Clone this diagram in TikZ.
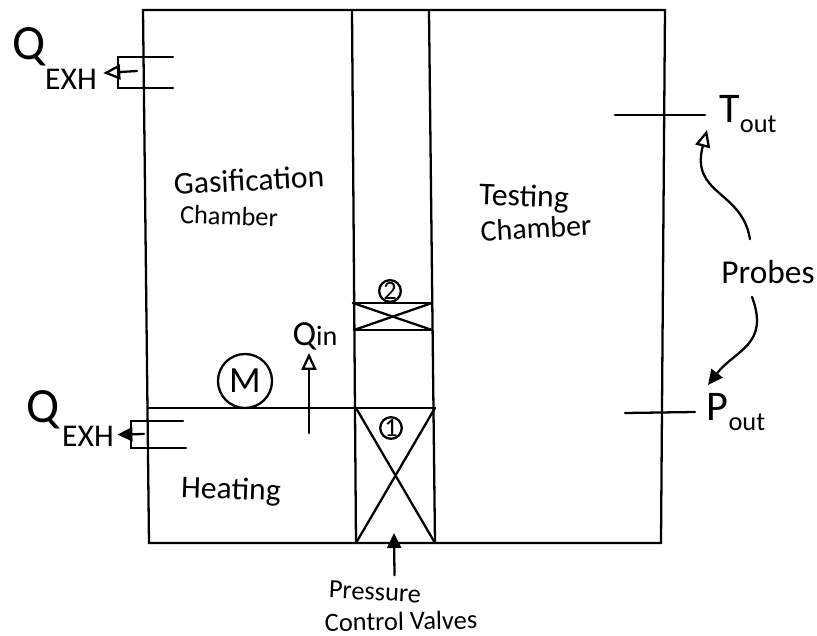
\documentclass[tikz,border=0pt]{standalone}
\usepackage{fontspec}
\setmainfont{Carlito}
\usetikzlibrary{positioning, arrows.meta, calc}

\newcommand{\subout}{\raisebox{-.5ex}{\fontsize{7.5}{8}\selectfont out}}

\begin{document}
\begin{tikzpicture}[x=.01cm, y=-.01cm, line width=.65pt, line cap=round,
        hand/.style={inner sep=0pt, font=\fontsize{9}{10}\selectfont},
        big/.style={inner sep=0pt, font=\fontsize{14}{14}\selectfont},
        small/.style={inner sep=0pt, font=\fontsize{7.5}{8}\selectfont},
        openarrow/.style={-{Triangle[open, length=1.7mm, width=1.5mm]}},
        solidarrow/.style={-{Triangle[length=1.5mm, width=1.4mm]}}]

        \useasboundingbox (0,0) rectangle (817,636);

        %CORNERS
        \coordinate (TL) at (143,10);
        \coordinate (TR) at (665,10);
        \coordinate (BL) at (149,543);
        \coordinate (BR) at (661,543);
        \coordinate (A1) at (352,10);
        \coordinate (A2) at (356,543);
        \coordinate (B1) at (429,11);
        \coordinate (B2) at (435,543);

        %WALLS
        \draw (BL) -- (TL) -- (TR) -- (BR) -- cycle;
        \draw (A1) -- (A2);
        \draw (B1) -- (B2);

        % DIVIDER (GOES AS FAR AS THE SECOND WALL)
        \coordinate (D1) at (149,408);
        \coordinate (D2) at (356,408);
        \coordinate (D3) at (435,408);
        \draw (D1) -- (D3);

        % VALVE 1
        \draw (D2) -- (B2);
        \draw (D3) -- (A2);
        \node[draw, circle, small, minimum size=.2cm] (one) at (391,428) {1};

        % VALVE 2
        \coordinate (V1) at (353,303);
        \coordinate (V2) at (432,303);
        \coordinate (V3) at (354,330);
        \coordinate (V4) at (432,330);
        \draw (V1) -- (V2);
        \draw (V3) -- (V4);
        \draw (V1) -- (V4);
        \draw (V3) -- (V2);
        \node[draw, circle, small, minimum size=.2cm] (two) at (390,291) {2};

        % MOTOR
        \node[draw, circle, hand, minimum size=.54cm, font=\fontsize{10.5}{11}\selectfont] (M) at (245,381) {M};

        % TOP EXHAUST
        \coordinate (E1) at (173,57);
        \coordinate (E2) at (118,57);
        \coordinate (E3) at (118,88);
        \coordinate (E4) at (173,88);
        \coordinate (E5) at (137,71);
        \draw (E1) -- (E2) -- (E3) -- (E4);
        \node[big] (Q1) at (29,47) {Q};
        \node[hand] (EXH1) at (71,79) {EXH};
        \draw[openarrow] (E5) -- ([xshift=1.5pt, yshift=1.7pt]EXH1.east);

        % BOTTOM EXHAUST
        \coordinate (F1) at (183,421);
        \coordinate (F2) at (131,421);
        \coordinate (F3) at (131,448);
        \coordinate (F4) at (186,448);
        \coordinate (F5) at (144,434);
        \draw (F1) -- (F2) -- (F3) -- (F4);
        \node[big] (Q2) at (43,410) {Q};
        \node[hand] (EXH2) at (88,436) {EXH};
        \draw[solidarrow] (F5) -- ([xshift=.7pt, yshift=.4pt]EXH2.east);

        % HEAT INTO THE TOP CHAMBER
        \coordinate (H) at (309,433);
        \node[hand, font=\fontsize{10}{11}\selectfont] (Qin) at (315,336) {Q\fontsize{8}{8}\selectfont in};
        \draw[openarrow] (H) -- ($(Qin.south) + (-6,2)$);

        %LABELS
        \node[hand, rotate=3] (gas) at (249,180) {Gasification};
        \node[hand, font=\fontsize{7.5}{8}\selectfont, rotate=-2] (gasb) at (229,216) {Chamber};
        \node[hand, rotate=-2] (test) at (524,198) {Testing};
        \node[hand, font=\fontsize{8.5}{9}\selectfont, rotate=3] (testb) at (536,228) {Chamber};
        \node[hand, rotate=-2] (heat) at (231,491) {Heating};

        % PROBES
        \coordinate (T1) at (615,115);
        \coordinate (T2) at (705,115);
        \coordinate (P1) at (625,413);
        \coordinate (P2) at (695,412);
        \draw (T1) -- (T2);
        \draw (P1) -- (P2);
        \node[big, font=\fontsize{12}{12}\selectfont] (Tout) at (748,114) {T\subout};
        \node[big, font=\fontsize{12}{12}\selectfont] (Pout) at (736,412) {P\subout};
        \node[hand, font=\fontsize{9.5}{10}\selectfont] (probes) at (768,272) {Probes};
        \coordinate (TA) at (707,130);
        \coordinate (PA) at (708,385);
        \draw[openarrow] ($(probes.north) + (-18,-20)$) .. controls (742,190) and (690,195) .. (TA);
        \draw[solidarrow] ($(probes.south) + (-16,12)$) .. controls (770,345) and (735,350) .. (PA);

        % VALVE CAPTION
        \node[small, rotate=-3] (press) at (375,592) {Pressure};
        \node[small, rotate=1] (ctrl) at (401,621) {Control Valves};
        \coordinate (VA) at (394,533);
        \draw[solidarrow] ($(press.north) + (19,-7)$) -- (VA);

    \end{tikzpicture}
\end{document}
